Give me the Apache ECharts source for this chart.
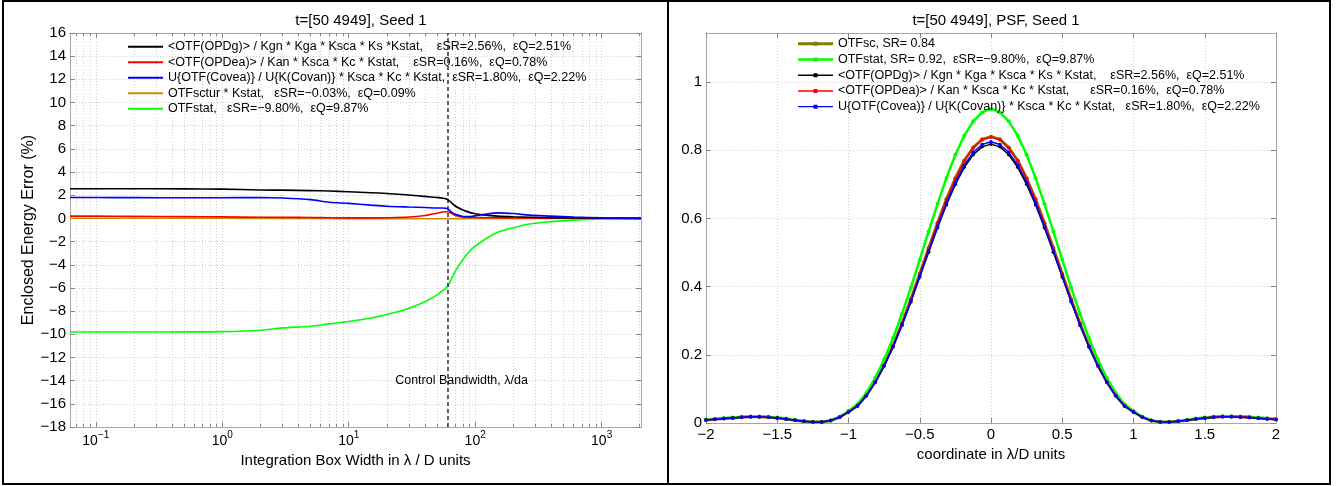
<!DOCTYPE html>
<html>
<head>
<meta charset="utf-8">
<script src="https://cdn.jsdelivr.net/npm/echarts@6/dist/echarts.min.js"></script>
<style>
html,body{margin:0;padding:0;background:#fff;}
#chart{width:1338px;height:486px;}
</style>
</head>
<body>
<div id="chart"></div>
<script>
// ---------- Left panel: enclosed energy error vs integration box width ----------
var boxWidth = [0.0625, 0.1, 0.2, 0.5, 1, 2, 3, 5, 7, 10, 15, 20, 30, 40, 50, 55, 60, 65, 70, 80, 90, 100, 120, 150, 200, 270, 400, 600, 1000, 2048];
var eeOPDg   = [2.56, 2.56, 2.56, 2.55, 2.53, 2.45, 2.44, 2.40, 2.36, 2.30, 2.22, 2.15, 2.02, 1.90, 1.80, 1.75, 1.65, 1.35, 1.05, 0.72, 0.52, 0.40, 0.28, 0.20, 0.14, 0.10, 0.06, 0.04, 0.02, 0];
var eeOPDea  = [0.20, 0.20, 0.18, 0.15, 0.13, 0.10, 0.09, 0.08, 0.06, 0.05, 0.05, 0.06, 0.12, 0.25, 0.45, 0.55, 0.58, 0.45, 0.25, 0.12, 0.10, 0.08, 0.06, 0.05, 0.04, 0.03, 0.02, 0.01, 0.01, 0];
var eeCovea  = [1.80, 1.80, 1.79, 1.78, 1.78, 1.80, 1.76, 1.62, 1.40, 1.30, 1.15, 1.05, 0.98, 0.94, 0.90, 0.90, 0.85, 0.55, 0.35, 0.17, 0.15, 0.22, 0.35, 0.48, 0.42, 0.28, 0.20, 0.12, 0.05, 0];
var eeSctur  = [0.02, 0.02, 0.02, 0.01, 0.01, 0.00, 0.00, -0.01, -0.01, -0.02, -0.02, -0.02, -0.03, -0.03, -0.03, -0.03, -0.03, -0.03, -0.02, -0.02, -0.01, -0.01, -0.01, 0, 0, 0, 0, 0, 0, 0];
var eeStat   = [-9.80, -9.80, -9.80, -9.79, -9.77, -9.65, -9.45, -9.30, -9.10, -8.90, -8.60, -8.30, -7.75, -7.20, -6.60, -6.25, -5.90, -5.20, -4.50, -3.55, -2.85, -2.40, -1.80, -1.20, -0.80, -0.48, -0.28, -0.15, -0.05, 0];
var controlBandwidth = 60;
var leftXRange = [0.0625, 2048];
var leftYTicks = [-18, 16, 2];
var leftXMajor = [0.1, 1, 10, 100, 1000];
var leftXMinor = [0.07, 0.08, 0.09, 0.2, 0.3, 0.4, 0.5, 0.6, 0.7, 0.8, 0.9, 2, 3, 4, 5, 6, 7, 8, 9, 20, 30, 40, 50, 60, 70, 80, 90, 200, 300, 400, 500, 600, 700, 800, 900, 2000];

// ---------- Right panel: PSF cuts ----------
var psfCoord = [];
for (var i = 0; i <= 64; i++) psfCoord.push(-2 + i / 16);   // sample grid, 1/16 lambda/D
var psfSc = [0.009,0.011,0.013,0.015,0.017,0.018,0.018,0.017,0.015,0.012,0.008,0.005,0.003,0.003,0.007,0.017,0.033,0.050,0.081,0.121,0.170,0.227,0.292,0.363,0.438,0.513,0.587,0.657,0.718,0.770,0.808,0.832,
             0.840,
             0.832,0.808,0.770,0.718,0.657,0.587,0.513,0.438,0.363,0.292,0.227,0.170,0.121,0.081,0.050,0.033,0.017,0.007,0.003,0.003,0.005,0.008,0.012,0.015,0.017,0.019,0.019,0.018,0.017,0.015,0.013,0.011];
var psfStat = [0.010,0.012,0.014,0.016,0.018,0.019,0.019,0.018,0.016,0.013,0.009,0.005,0.003,0.003,0.007,0.018,0.035,0.055,0.088,0.132,0.186,0.249,0.320,0.397,0.479,0.562,0.643,0.719,0.787,0.843,0.885,0.911,
               0.922,
               0.911,0.885,0.843,0.787,0.719,0.643,0.562,0.479,0.397,0.320,0.249,0.186,0.132,0.088,0.055,0.035,0.018,0.007,0.003,0.003,0.005,0.009,0.013,0.016,0.018,0.020,0.020,0.019,0.018,0.016,0.014,0.012];
var psfOPDg = [0.009,0.011,0.013,0.015,0.017,0.018,0.018,0.017,0.015,0.012,0.008,0.005,0.003,0.003,0.007,0.017,0.032,0.050,0.080,0.119,0.167,0.223,0.286,0.355,0.428,0.501,0.573,0.640,0.700,0.750,0.787,0.810,
               0.818,
               0.810,0.787,0.750,0.700,0.640,0.573,0.501,0.428,0.355,0.286,0.223,0.167,0.119,0.080,0.050,0.032,0.017,0.007,0.003,0.003,0.005,0.008,0.012,0.015,0.017,0.018,0.018,0.017,0.016,0.014,0.012,0.010];
var psfOPDea = [0.009,0.011,0.013,0.015,0.017,0.018,0.018,0.017,0.015,0.012,0.008,0.005,0.003,0.003,0.007,0.017,0.032,0.050,0.081,0.120,0.169,0.226,0.291,0.362,0.437,0.512,0.586,0.656,0.717,0.769,0.807,0.831,
                0.839,
                0.831,0.807,0.769,0.717,0.656,0.586,0.512,0.437,0.362,0.291,0.226,0.169,0.120,0.081,0.050,0.032,0.017,0.007,0.003,0.003,0.005,0.008,0.012,0.015,0.018,0.019,0.019,0.019,0.017,0.015,0.013,0.011];
var psfCovea = [0.009,0.011,0.013,0.015,0.017,0.018,0.018,0.017,0.015,0.012,0.008,0.005,0.003,0.003,0.007,0.017,0.032,0.050,0.080,0.120,0.168,0.224,0.288,0.357,0.431,0.505,0.577,0.645,0.706,0.756,0.794,0.817,
                0.825,
                0.817,0.794,0.756,0.706,0.645,0.577,0.505,0.431,0.357,0.288,0.224,0.168,0.120,0.080,0.050,0.032,0.017,0.007,0.003,0.003,0.005,0.008,0.012,0.015,0.017,0.018,0.018,0.017,0.016,0.014,0.012,0.010];
var rightYMax = 1.144;
var rightYLabels = [0, 0.2, 0.4, 0.6, 0.8, 1];

// ---------- names ----------
var nL1 = '<OTF(OPDg)> / Kgn * Kga * Ksca * Ks *Kstat,    \u03b5SR=2.56%,  \u03b5Q=2.51%';
var nL2 = '<OTF(OPDea)> / Kan * Ksca * Kc * Kstat,    \u03b5SR=0.16%,  \u03b5Q=0.78%';
var nL3 = 'U{OTF(Covea)} / U{K(Covan)} * Ksca * Kc * Kstat,  \u03b5SR=1.80%,  \u03b5Q=2.22%';
var nL4 = 'OTFsctur * Kstat,   \u03b5SR=\u22120.03%,  \u03b5Q=0.09%';
var nL5 = 'OTFstat,   \u03b5SR=\u22129.80%,  \u03b5Q=9.87%';
var nR1 = 'OTFsc, SR= 0.84';
var nR2 = 'OTFstat, SR= 0.92,  \u03b5SR=\u22129.80%,  \u03b5Q=9.87%';
var nR3 = '<OTF(OPDg)> / Kgn * Kga * Ksca * Ks * Kstat,    \u03b5SR=2.56%,  \u03b5Q=2.51%';
var nR4 = '<OTF(OPDea)> / Kan * Ksca * Kc * Kstat,      \u03b5SR=0.16%,  \u03b5Q=0.78%';
var nR5 = 'U{OTF(Covea)} / U{K(Covan)} * Ksca * Kc * Kstat,   \u03b5SR=1.80%,  \u03b5Q=2.22%';

var FONT = "'Liberation Sans', Arial, Helvetica, sans-serif";
var AXC = '#a6a6a6';
var GRIDC = '#d0d0d0';
function minus(v) { return String(v).replace('-', '\u2212'); }
function pairs(xs, ys, tx) { return xs.map(function (x, i) { return [tx ? Math.log10(x) : x, ys[i]]; }); }
var lg = function (a) { return a.map(function (v) { return Math.log10(v); }); };

// legend icons: a line with a dot in the middle (35 x 4 box)
var ICON_THIN = 'path://M0,1.3H35V2.7H0Z M15.5,0H19.5V4H15.5Z';
var ICON_THICK = 'path://M0,0.5H35V3.5H0Z M15.5,0H19.5V4H15.5Z';
var ICON_MID = 'path://M0,0.8H35V3.2H0Z M15.5,0H19.5V4H15.5Z';

var chart = echarts.init(document.getElementById('chart'), null, {renderer: 'canvas'});

var lmin = Math.log10(leftXRange[0]), lmax = Math.log10(leftXRange[1]);
function logAxis(pos, vals, tickLen, labels, split) {
  return {
    type: 'value', gridIndex: 0, position: pos, min: lmin, max: lmax,
    axisLine: {show: true, onZero: false, lineStyle: {color: AXC, width: 1}},
    axisTick: {show: true, inside: true, length: tickLen, customValues: lg(vals), lineStyle: {color: '#888'}},
    axisLabel: labels ? {
      show: true, customValues: lg(vals), margin: 3, fontFamily: FONT,
      formatter: function (v) { return '{b|10}{s|' + minus(Math.round(v)) + '}'; },
      rich: {
        b: {fontSize: 14, fontFamily: FONT, color: '#000', lineHeight: 18, verticalAlign: 'bottom'},
        s: {fontSize: 10, fontFamily: FONT, color: '#000', lineHeight: 18, verticalAlign: 'top'}
      }
    } : {show: false},
    splitLine: {show: split, lineStyle: {color: GRIDC, type: [1, 2], width: 1}}
  };
}

var xAxes = [
  logAxis('bottom', leftXMajor, 5, true, true),
  logAxis('bottom', leftXMinor, 3, false, true),
  logAxis('top', leftXMajor, 5, false, false),
  logAxis('top', leftXMinor, 3, false, false),
  {
    type: 'value', gridIndex: 1, position: 'bottom', min: -2, max: 2, interval: 0.5,
    name: 'coordinate in \u03bb/D units', nameLocation: 'middle', nameGap: 21,
    nameTextStyle: {fontSize: 15, fontFamily: FONT, color: '#000'},
    axisLine: {show: true, onZero: false, lineStyle: {color: AXC}},
    axisTick: {show: true, inside: true, length: 5, lineStyle: {color: '#888'}},
    axisLabel: {fontSize: 15, fontFamily: FONT, color: '#000', margin: 4, formatter: function (v) { return minus(v); }},
    splitLine: {show: true, lineStyle: {color: GRIDC, type: [1, 2]}}
  },
  {
    type: 'value', gridIndex: 1, position: 'top', min: -2, max: 2, interval: 0.5,
    axisLine: {show: true, onZero: false, lineStyle: {color: AXC}},
    axisTick: {show: true, inside: true, length: 5, lineStyle: {color: '#888'}},
    axisLabel: {show: false}, splitLine: {show: false}
  }
];
xAxes[0].name = 'Integration Box Width in \u03bb / D units';
xAxes[0].nameLocation = 'middle';
xAxes[0].nameGap = 22;
xAxes[0].nameTextStyle = {fontSize: 15, fontFamily: FONT, color: '#000'};

var yAxes = [
  {
    type: 'value', gridIndex: 0, position: 'left', min: leftYTicks[0], max: leftYTicks[1], interval: leftYTicks[2],
    name: 'Enclosed Energy Error (%)', nameLocation: 'middle', nameGap: 31, nameRotate: 90,
    nameTextStyle: {fontSize: 16, fontFamily: FONT, color: '#000'},
    axisLine: {show: true, onZero: false, lineStyle: {color: AXC}},
    axisTick: {show: true, inside: true, length: 5, lineStyle: {color: '#888'}},
    axisLabel: {fontSize: 15, fontFamily: FONT, color: '#000', margin: 4, formatter: function (v) { return minus(v); }},
    splitLine: {show: true, lineStyle: {color: GRIDC, type: [1, 2]}}
  },
  {
    type: 'value', gridIndex: 0, position: 'right', min: leftYTicks[0], max: leftYTicks[1], interval: leftYTicks[2],
    axisLine: {show: true, onZero: false, lineStyle: {color: AXC}},
    axisTick: {show: true, inside: true, length: 5, lineStyle: {color: '#888'}},
    axisLabel: {show: false}, splitLine: {show: false}
  },
  {
    type: 'value', gridIndex: 1, position: 'left', min: 0, max: rightYMax,
    axisLine: {show: true, onZero: false, lineStyle: {color: AXC}},
    axisTick: {show: true, inside: true, length: 5, customValues: rightYLabels, lineStyle: {color: '#888'}},
    axisLabel: {fontSize: 15, fontFamily: FONT, color: '#000', margin: 4, customValues: rightYLabels},
    splitLine: {show: true, lineStyle: {color: GRIDC, type: [1, 2]}}
  },
  {
    type: 'value', gridIndex: 1, position: 'right', min: 0, max: rightYMax,
    axisLine: {show: true, onZero: false, lineStyle: {color: AXC}},
    axisTick: {show: true, inside: true, length: 5, customValues: rightYLabels, lineStyle: {color: '#888'}},
    axisLabel: {show: false}, splitLine: {show: false}
  }
];

function leftSeries(name, ys, color, z) {
  return {
    name: name, type: 'line', xAxisIndex: 0, yAxisIndex: 0, data: pairs(boxWidth, ys, true),
    showSymbol: false, symbol: 'none', smooth: 0.3, z: z,
    lineStyle: {color: color, width: 1.6}, itemStyle: {color: color}, animation: false
  };
}
function rightSeries(name, ys, color, w, z) {
  return {
    name: name, type: 'line', xAxisIndex: 4, yAxisIndex: 2, data: pairs(psfCoord, ys, false),
    symbol: 'circle', symbolSize: w > 2 ? 4 : 3.5, showSymbol: true, z: z,
    lineStyle: {color: color, width: w}, itemStyle: {color: color}, animation: false
  };
}

var s1 = leftSeries(nL1, eeOPDg, '#000000', 5);
s1.markLine = {
  silent: true, symbol: 'none', animation: false,
  lineStyle: {color: '#333', type: [4, 3], width: 1.5},
  label: {show: false},
  data: [{xAxis: Math.log10(controlBandwidth)}]
};
s1.markPoint = {
  silent: true, symbol: 'circle', symbolSize: 0, animation: false,
  label: {show: true, formatter: 'Control Bandwidth, \u03bb/da', fontSize: 12.5, fontFamily: FONT, color: '#000', position: 'inside'},
  data: [{coord: [Math.log10(78), -13.95]}]
};

var option = {
  backgroundColor: '#fff',
  animation: false,
  textStyle: {fontFamily: FONT},
  title: [
    {text: 't=[50 4949], Seed 1', left: 356, top: 8, textAlign: 'center', textStyle: {fontSize: 15, fontWeight: 'normal', fontFamily: FONT, color: '#000'}},
    {text: 't=[50 4949], PSF, Seed 1', left: 991, top: 8, textAlign: 'center', textStyle: {fontSize: 15, fontWeight: 'normal', fontFamily: FONT, color: '#000'}}
  ],
  grid: [
    {left: 70, top: 33, width: 571, height: 394, containLabel: false},
    {left: 706, top: 33, width: 570, height: 390, containLabel: false}
  ],
  legend: [
    {
      data: [nL1, nL2, nL3, nL4, nL5], orient: 'vertical', left: 128, top: 39, padding: 0,
      icon: 'rect', itemWidth: 35, itemHeight: 2, itemGap: 0, selectedMode: false,
      textStyle: {fontSize: 12.5, fontFamily: FONT, color: '#000', lineHeight: 15.5}
    },
    {
      data: [
        {name: nR1, icon: ICON_THICK},
        {name: nR2, icon: ICON_MID},
        {name: nR3, icon: ICON_THIN},
        {name: nR4, icon: ICON_THIN},
        {name: nR5, icon: ICON_THIN}
      ],
      orient: 'vertical', left: 798, top: 36, padding: 0,
      itemWidth: 35, itemHeight: 4, itemGap: 0, selectedMode: false,
      textStyle: {fontSize: 12.5, fontFamily: FONT, color: '#000', lineHeight: 15.7}
    }
  ],
  xAxis: xAxes,
  yAxis: yAxes,
  series: [
    s1,
    leftSeries(nL2, eeOPDea, '#ff0000', 4),
    leftSeries(nL3, eeCovea, '#0000ff', 6),
    leftSeries(nL4, eeSctur, '#cc8c00', 3),
    leftSeries(nL5, eeStat, '#00ff00', 2),
    rightSeries(nR1, psfSc, '#808000', 3, 2),
    rightSeries(nR2, psfStat, '#00ff00', 2.5, 3),
    rightSeries(nR3, psfOPDg, '#000000', 1.5, 4),
    rightSeries(nR4, psfOPDea, '#ff0000', 1.5, 5),
    rightSeries(nR5, psfCovea, '#0000ff', 1.5, 6)
  ],
  graphic: [
    {type: 'rect', silent: true, z: 100, shape: {x: 3, y: 1, width: 665, height: 483}, style: {fill: 'none', stroke: '#000', lineWidth: 2}},
    {type: 'rect', silent: true, z: 100, shape: {x: 668, y: 1, width: 662, height: 483}, style: {fill: 'none', stroke: '#000', lineWidth: 2}}
  ]
};
chart.setOption(option);
</script>
</body>
</html>
